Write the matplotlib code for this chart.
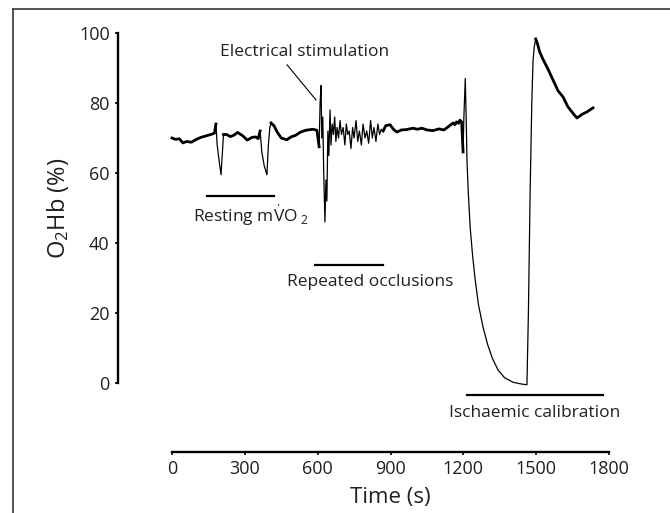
import numpy as np
import matplotlib
matplotlib.use("Agg")
import matplotlib.pyplot as plt
from matplotlib.lines import Line2D

plt.rcParams["font.family"] = ["Open Sans", "DejaVu Sans"]
plt.rcParams["mathtext.fontset"] = "custom"
plt.rcParams["mathtext.rm"] = "Open Sans"
plt.rcParams["mathtext.it"] = "Open Sans:italic"

# O2Hb trace (time in s, O2Hb in %)
time_s = [0, 15, 30, 45, 60, 80, 100, 120, 140, 160, 175, 181, 186, 195, 202, 207, 212,
          225, 240, 255, 270, 292, 310, 330, 345, 355, 363, 370, 380, 391, 397, 403, 408,
          420, 435, 450, 473, 490, 510, 527, 550, 581, 597,
          606, 610, 614, 617, 621, 625, 630, 634, 638, 642, 646, 651, 655, 660, 665, 670,
          675, 680, 686, 692, 698, 705, 712, 718, 724, 730, 737, 744, 750, 758, 765, 772,
          780, 787, 795, 802, 810, 818, 825, 832, 840, 848, 855, 862, 870, 880, 898, 912,
          926, 945, 965, 993, 1010, 1030, 1050, 1075, 1100, 1120, 1132, 1145, 1158, 1165,
          1172, 1180, 1186, 1193, 1199, 1202, 1208, 1212, 1215, 1220, 1228, 1238, 1248,
          1262, 1281, 1300, 1320, 1343, 1370, 1405, 1440, 1462, 1468, 1475, 1482, 1487,
          1492, 1498, 1505, 1515, 1528, 1550, 1570, 1590, 1611, 1630, 1650, 1668, 1690,
          1710, 1734]
o2hb = [70, 69.6, 69.8, 68.6, 69, 68.8, 69.6, 70.2, 70.6, 71, 71.4, 74, 68, 63, 59.5, 65, 71,
        71, 70.4, 70.8, 71.6, 70.6, 69.4, 70.2, 70.3, 69.8, 72, 66, 62, 59.5, 68, 73, 74.3,
        73.5, 71.5, 70, 69.5, 70.3, 70.8, 71.6, 72.2, 72.5, 72.2,
        67.5, 80, 85, 70, 76, 60, 46, 58, 52, 72, 65, 78, 68, 74, 71, 76,
        69, 73, 70, 75, 71, 73, 68, 74, 71, 72, 67, 73, 70, 75, 69, 72,
        68, 74, 70, 72, 68.5, 75, 70, 73, 69, 74, 71, 72.5, 72, 73.5, 73.8, 72.5,
        71.7, 72.3, 72.4, 72.8, 72.5, 72.8, 72.3, 72.1, 72.6, 72.3, 72.9, 73.6, 74.3, 73.8,
        74.6, 74.2, 75.1, 74.6, 66, 75.5, 87, 75, 63.7, 55, 44.6, 36.5, 30,
        22.5, 16, 11, 7, 3.7, 1.5, 0.2, -0.3, -0.5, 20, 54, 80, 92,
        96, 98.3, 97, 94.5, 92.5, 89.5, 86.5, 83.5, 81.7, 79, 77.2, 75.7, 76.8,
        77.5, 78.6]

# stretches where the recorded trace looks thick (slow, noisy signal)
thick_windows = [(0, 181), (212, 363), (408, 606), (870, 1199), (1498, 1734)]

bar_labels = ["Resting m$\\overset{.}{\\mathrm{V}}$O$_{\\ 2}$", "Repeated occlusions",
              "Ischaemic calibration"]
bar_starts = [144, 589, 1215]
bar_ends = [420, 869, 1775]
bar_levels = [53.4, 33.7, -3.4]

ink = "#231f20"

fig = plt.figure(figsize=(6.7, 5.13), dpi=100)
ax = fig.add_axes([172 / 670, 130 / 513, 437 / 670, 350 / 513])

t = np.array(time_s, dtype=float)
v = np.array(o2hb, dtype=float)
ax.plot(t, v, color="black", lw=0.9, clip_on=False)
mask = np.zeros(len(t), dtype=bool)
for a, b in thick_windows:
    mask |= (t >= a) & (t <= b)
ax.plot(t, np.where(mask, v, np.nan), color="black", lw=2.0, clip_on=False)

for s, e, lev in zip(bar_starts, bar_ends, bar_levels):
    ax.plot([s, e], [lev, lev], color="black", lw=1.6, clip_on=False)
ax.text(87, 48, bar_labels[0], fontsize=12.5, color=ink, va="center", ha="left")
ax.text(474, 28.9, bar_labels[1], fontsize=12.5, color=ink, va="center", ha="left")
ax.text(1495, -8.6, bar_labels[2], fontsize=12.5, color=ink, va="center", ha="center",
        clip_on=False)

ax.text(198, 94.6, "Electrical stimulation", fontsize=12.5, color=ink, va="center", ha="left")
ax.plot([474, 593], [90.9, 80.9], color="black", lw=0.8)

ax.set_xlim(0, 1800)
ax.set_ylim(0, 100)
ax.set_xticks(range(0, 1801, 300))
ax.set_yticks(range(0, 101, 20))

for side in ["top", "right"]:
    ax.spines[side].set_visible(False)
ax.spines["left"].set_position(("outward", 54 * 0.72))
ax.spines["bottom"].set_position(("outward", 69 * 0.72))
for side in ["left", "bottom"]:
    ax.spines[side].set_linewidth(1.7)
    ax.spines[side].set_color("black")
ax.tick_params(length=2.5, width=1.2, color="black", labelsize=13, labelcolor=ink, pad=3.5)

ax.set_xlabel("Time (s)", fontsize=16, color=ink, labelpad=6)
ax.set_ylabel("O$_2$Hb (%)", fontsize=17, color=ink, labelpad=6)

# frame lines of the original figure panel
fig.add_artist(Line2D([13 / 670, 1.0], [1 - 9 / 513, 1 - 9 / 513], transform=fig.transFigure,
                      color="#444444", lw=1.3))
fig.add_artist(Line2D([13 / 670, 13 / 670], [0, 1 - 9 / 513], transform=fig.transFigure,
                      color="#444444", lw=1.3))

fig.savefig("out.png", dpi=100)
